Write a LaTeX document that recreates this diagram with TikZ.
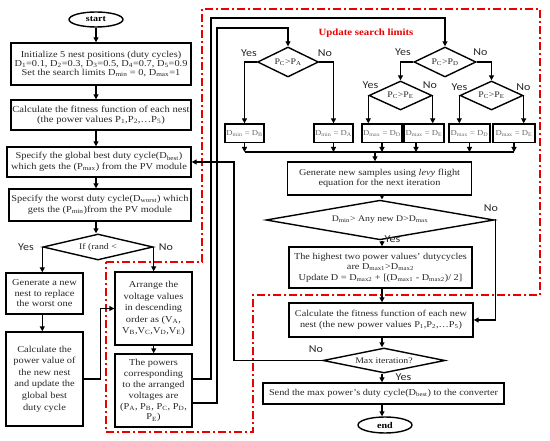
\documentclass[tikz,border=0pt]{standalone}
\usepackage{fontspec}
\setmainfont{Liberation Serif}[FakeStretch=1.14]
\newfontfamily\labfont{Carlito}[FakeStretch=1.14]
\usetikzlibrary{shapes.geometric,arrows.meta}
\newcommand{\sbs}[1]{\textsubscript{#1}}
\definecolor{txt}{gray}{0.15}
\definecolor{redline}{RGB}{235,0,0}
\begin{document}
\begin{tikzpicture}[x=1pt,y=-1pt,
  box/.style={draw, line width=1.4pt, rectangle, inner sep=1pt, align=center, font=\fontsize{9.1}{10.5}\selectfont, text=txt},
  sbox/.style={draw, line width=1.2pt, rectangle, inner sep=0pt, font=\fontsize{7.6}{8}\selectfont, text=black!60},
  dia/.style={draw, line width=1.4pt, diamond, aspect=3, inner sep=0pt, font=\fontsize{8.6}{9}\selectfont, text=txt},
  term/.style={draw, line width=1.4pt, ellipse, inner sep=0pt, font=\bfseries\fontsize{8.8}{9}\selectfont},
  arr/.style={line width=1.2pt, -{Triangle[length=5pt,width=5pt]}},
  ln/.style={line width=1.2pt},
  lab/.style={font=\labfont\fontsize{10.5}{11}\selectfont, text=black!85, inner sep=0pt},
  redd/.style={draw=redline, line width=1.5pt, dash pattern=on 8pt off 3pt on 2pt off 3pt}]
\useasboundingbox (0,0) rectangle (550,441);

% red dash-dot region
\draw[redd] (106,262) -- (202,262) -- (202,9) -- (540,9) -- (540,295) -- (253,295) -- (253,432) -- (106,432) -- cycle;

% left column
\node[term, minimum width=54pt, minimum height=15pt] (start) at (96,19.5) {start};
\node[box, minimum width=180pt, minimum height=42pt, font=\fontsize{9.1}{9.3}\selectfont] (b1) at (101,64) {Initialize 5 nest positions (duty cycles)\\D\sbs{1}=0.1, D\sbs{2}=0.3, D\sbs{3}=0.5, D\sbs{4}=0.7, D\sbs{5}=0.9\\Set the search limits D\sbs{min} = 0, D\sbs{max}=1};
\node[box, minimum width=180pt, minimum height=30pt, font=\fontsize{9.3}{9.5}\selectfont] (b2) at (101,115) {Calculate the fitness function of each nest\\(the power values P\sbs{1},P\sbs{2},…P\sbs{5})};
\node[box, minimum width=184pt, minimum height=30pt] (b3) at (99,162) {Specify the global best duty cycle(D\sbs{best})\\which gets the (P\sbs{max}) from the PV module};
\node[box, minimum width=182pt, minimum height=32pt] (b4) at (100,205) {Specify the worst duty cycle(D\sbs{worst}) which\\gets the (P\sbs{min})from the PV module};
\node[dia, minimum width=110pt, minimum height=26pt] (d1) at (98,247) {If (rand <};
\node[box, minimum width=77pt, minimum height=41pt] (g1) at (44.5,293.5) {Generate a new\\nest to replace\\the worst one};
\node[box, minimum width=77pt, minimum height=94pt, font=\fontsize{9.1}{11.6}\selectfont] (g2) at (44.5,379) {Calculate the\\power value of\\the new nest\\and update the\\global best\\duty cycle};
\node[box, minimum width=77pt, minimum height=73pt, font=\fontsize{9.1}{11.5}\selectfont] (a1) at (153.5,308.5) {Arrange the\\voltage values\\in descending\\order as (V\sbs{A},\\V\sbs{B},V\sbs{C},V\sbs{D},V\sbs{E})};
\node[box, minimum width=77pt, minimum height=73pt, font=\fontsize{9.1}{10.9}\selectfont] (a2) at (153.5,390.5) {The powers\\corresponding\\to the arranged\\voltages are\\(P\sbs{A}, P\sbs{B}, P\sbs{C}, P\sbs{D},\\P\sbs{E})};

\node[lab] (y1) at (26,247) {Yes};
\node[lab] (n1) at (166,247) {No};

\draw[arr] (start.south) -- (start.south |- b1.north);
\draw[arr] (b1.south -| start) -- (b2.north -| start);
\draw[arr] (b2.south -| start) -- (b3.north -| start);
\draw[arr] (b3.south -| start) -- (b4.north -| start);
\draw[arr] (b4.south -| start) -- (d1.north -| start);
\draw[arr] (d1.west) -- (d1.west |- g1.north);
\draw[arr] (d1.east) -- (d1.east |- a1.north);
\draw[arr] (g1.south -| d1.west) -- (g2.north -| d1.west);
\draw[arr] (a1.south -| d1.east) -- (a2.north -| d1.east);
\draw[arr] (g2.east) -- ++(17,0) |- (a1.west);

% update search limits
\node[font=\bfseries\fontsize{9.5}{10}\selectfont, text=redline] (title) at (366,33) {Update search limits};
\node[dia, minimum width=61pt, minimum height=30pt] (pcpa) at (288,62) {P\sbs{C}>P\sbs{A}};
\node[dia, minimum width=62pt, minimum height=30pt] (pcpd) at (445,62) {P\sbs{C}>P\sbs{D}};
\node[dia, minimum width=63pt, minimum height=29pt] (pcpe1) at (400.5,95.5) {P\sbs{C}>P\sbs{E}};
\node[dia, minimum width=63pt, minimum height=29pt] (pcpe2) at (491.5,95.5) {P\sbs{C}>P\sbs{E}};
\node[sbox, minimum width=39pt, minimum height=18.5pt] (s1) at (244.5,133.2) {D\sbs{min} = D\sbs{B}};
\node[sbox, minimum width=39pt, minimum height=18.5pt] (s2) at (333.5,133.2) {D\sbs{min} = D\sbs{A}};
\node[sbox, minimum width=40pt, minimum height=18.5pt] (s3) at (382,133.2) {D\sbs{max} = D\sbs{D}};
\node[sbox, minimum width=40pt, minimum height=18.5pt] (s4) at (424,133.2) {D\sbs{max} = D\sbs{E}};
\node[sbox, minimum width=41pt, minimum height=18.5pt] (s5) at (469.5,133.2) {D\sbs{max} = D\sbs{D}};
\node[sbox, minimum width=42pt, minimum height=18.5pt] (s6) at (514,133.2) {D\sbs{max} = D\sbs{E}};

\node[lab] (ya) at (249,53) {Yes};
\node[lab] (na) at (325,53) {No};
\node[lab] (yd) at (403,52) {Yes};
\node[lab] (nd) at (480.5,52) {No};
\node[lab] (ye1) at (370.5,85) {Yes};
\node[lab] (ne1) at (430,85) {No};
\node[lab] (ye2) at (459.5,87) {Yes};
\node[lab] (ne2) at (523.5,87) {No};

\draw[arr] (pcpa.west) -| (s1.north);
\draw[arr] (pcpa.east) -| (s2.north);
\draw[arr] (pcpd.west) -| (pcpe1.north);
\draw[arr] (pcpd.east) -| (pcpe2.north);
\draw[arr] (pcpe1.west) -- (pcpe1.west |- s3.north);
\draw[arr] (pcpe1.east) -- (pcpe1.east |- s4.north);
\draw[arr] (pcpe2.west) -- (pcpe2.west |- s5.north);
\draw[arr] (pcpe2.east) -- (pcpe2.east |- s6.north);

\coordinate (cl) at (242,152);
\coordinate (cm) at (375,152);
\draw[arr] (s1.south) -- (s1.south |- cl);
\draw[arr] (s2.south) -- (s2.south |- cl);
\draw[arr] (s3.south) -- (s3.south |- cl);
\draw[arr] ([xshift=-8pt]s4.south) -- ([xshift=-8pt]s4.south |- cl);
\draw[arr] (s5.south) -- (s5.south |- cl);
\draw[arr] (s6.south) -- (s6.south |- cl);
\draw[ln] (s1.south |- cl) -- (s6.south |- cl);

% main right column
\coordinate (colx) at (382,0);
\node[box, minimum width=184pt, minimum height=33pt, font=\fontsize{9}{10.5}\selectfont] (gen) at (379.5,178.5) {Generate new samples using \textit{levy} flight\\equation for the next iteration};
\node[dia, minimum width=228pt, minimum height=29pt] (dd) at (380,220) {D\sbs{min}> Any new D>D\sbs{max}};
\node[box, minimum width=183pt, minimum height=41pt, font=\fontsize{9}{10.5}\selectfont] (hi) at (380.5,267.5) {The highest two power values' dutycycles\\are D\sbs{max1}>D\sbs{max2}\\Update D = D\sbs{max2} + [(D\sbs{max1} - D\sbs{max2})/ 2]};
\node[box, minimum width=184pt, minimum height=34pt, font=\fontsize{9}{10.7}\selectfont] (fit) at (381,320) {Calculate the fitness function of each new\\nest (the new power values P\sbs{1},P\sbs{2},…P\sbs{5})};
\node[dia, minimum width=122pt, minimum height=25pt] (maxit) at (384,360.5) {Max iteration?};
\node[box, minimum width=241pt, minimum height=21pt, font=\fontsize{9}{10}\selectfont] (send) at (383.5,393.5) {Send the max power's duty cycle(D\sbs{best}) to the converter};
\node[term, minimum width=54pt, minimum height=16pt] (end) at (385,425) {end};

\node[lab] (ndd) at (491,208) {No};
\node[lab] (ydd) at (392.5,239) {Yes};
\node[lab] (ymx) at (403.5,377) {Yes};
\node[lab] (nmx) at (316,349) {No};

\draw[arr] (cm) -- (cm |- gen.north);
\draw[arr] (gen.south -| colx) -- (dd.north -| colx);
\draw[arr] (dd.south -| colx) -- (hi.north -| colx);
\draw[arr] (hi.south -| colx) -- (fit.north -| colx);
\draw[arr] (fit.south -| colx) -- (maxit.north -| colx);
\draw[arr] (maxit.south -| colx) -- (send.north -| colx);
\draw[arr] (send.south -| colx) -- (end.north -| colx);
\draw[arr] (dd.east) -- ++(1,0) |- (fit.east);

% feedback lines
\coordinate (o1) at (211,18);
\coordinate (o2) at (217,28);
\coordinate (c3) at (234,162);
\draw[arr] ([yshift=11.5pt]a2.east) -| (o1) -| (pcpd.north);
\draw[arr] ([yshift=-12.5pt]a2.east) -| (o2) -| (pcpa.north);
\draw[arr] (maxit.west) -| (c3) -- (b3.east);
\end{tikzpicture}
\end{document}
